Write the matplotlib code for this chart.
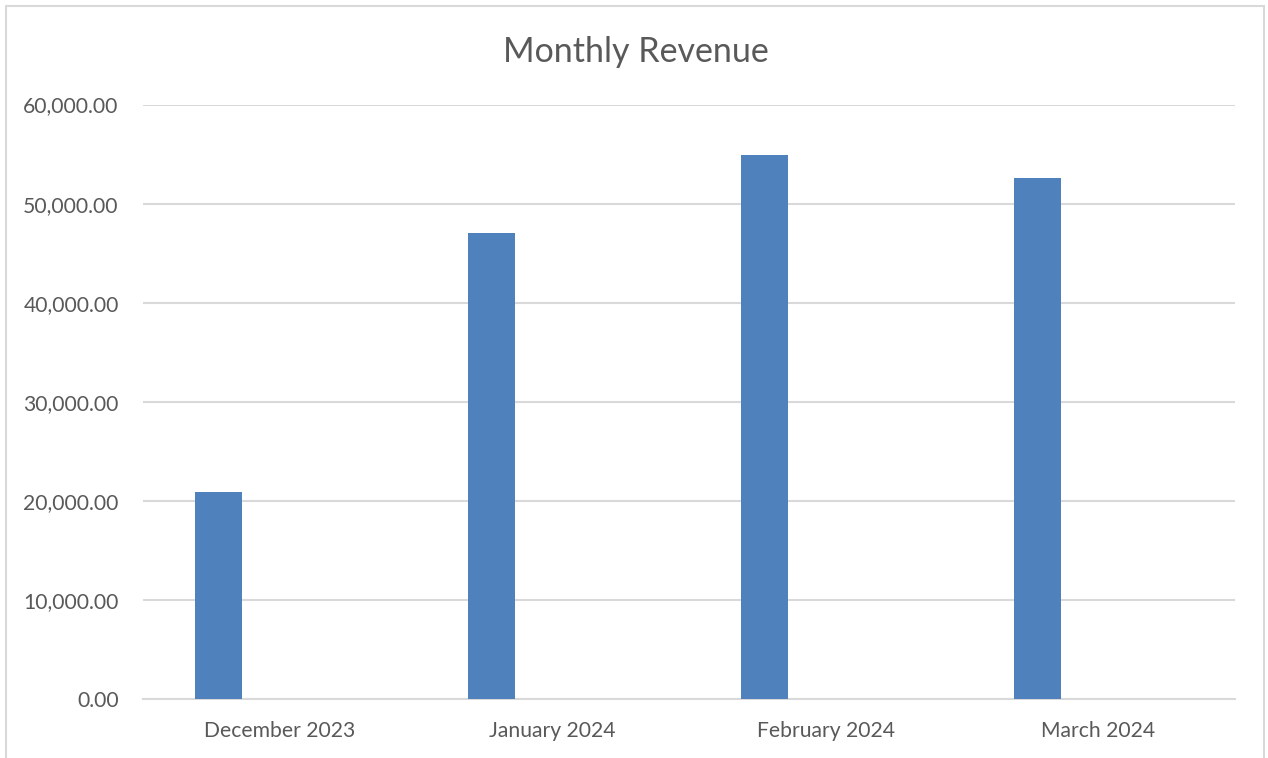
import matplotlib.pyplot as plt
from matplotlib.patches import Rectangle
from matplotlib.ticker import FuncFormatter

months = ["December 2023", "January 2024", "February 2024", "March 2024"]
revenue = [20950, 47000, 54900, 52550]

plt.rcParams['font.family'] = ['Lato', 'DejaVu Sans']
text_color = '#595959'
bar_color = '#4f81bd'
grid_color = '#d9d9d9'

fig = plt.figure(figsize=(12.68, 7.58), dpi=100)
ax = fig.add_axes([0.1128, 0.0775, 0.974 - 0.1128, 0.8621 - 0.0775])

x = list(range(len(months)))
ax.bar([i - 0.223 for i in x], revenue, width=0.172, color=bar_color, zorder=3)

ax.set_xlim(-0.5, len(months) - 0.5)
ax.set_ylim(0, 60000)
ax.set_yticks(range(0, 60001, 10000))
ax.yaxis.set_major_formatter(FuncFormatter(lambda v, p: f"{v:,.2f}"))
ax.set_xticks(x)
ax.set_xticklabels(months)

ax.grid(axis='y', color=grid_color, linewidth=1.5, zorder=0)
for s in ['top', 'right', 'left']:
    ax.spines[s].set_visible(False)
ax.spines['bottom'].set_color(grid_color)
ax.spines['bottom'].set_linewidth(1.5)
ax.tick_params(axis='both', length=0, labelsize=15.2, colors=text_color)
ax.tick_params(axis='y', pad=17.5)
ax.tick_params(axis='x', pad=16)

fig.text(0.5015, 0.932, "Monthly Revenue", ha='center', va='center',
         fontsize=24.5, color=text_color)

# chart border (bottom edge cut off in the original)
fig.patches.append(Rectangle((6 / 1268, -0.05), (1264 - 6) / 1268, 1.05 - 6 / 758,
                             transform=fig.transFigure, fill=False,
                             edgecolor=grid_color, linewidth=1.5))

fig.savefig("out.png", dpi=100)
